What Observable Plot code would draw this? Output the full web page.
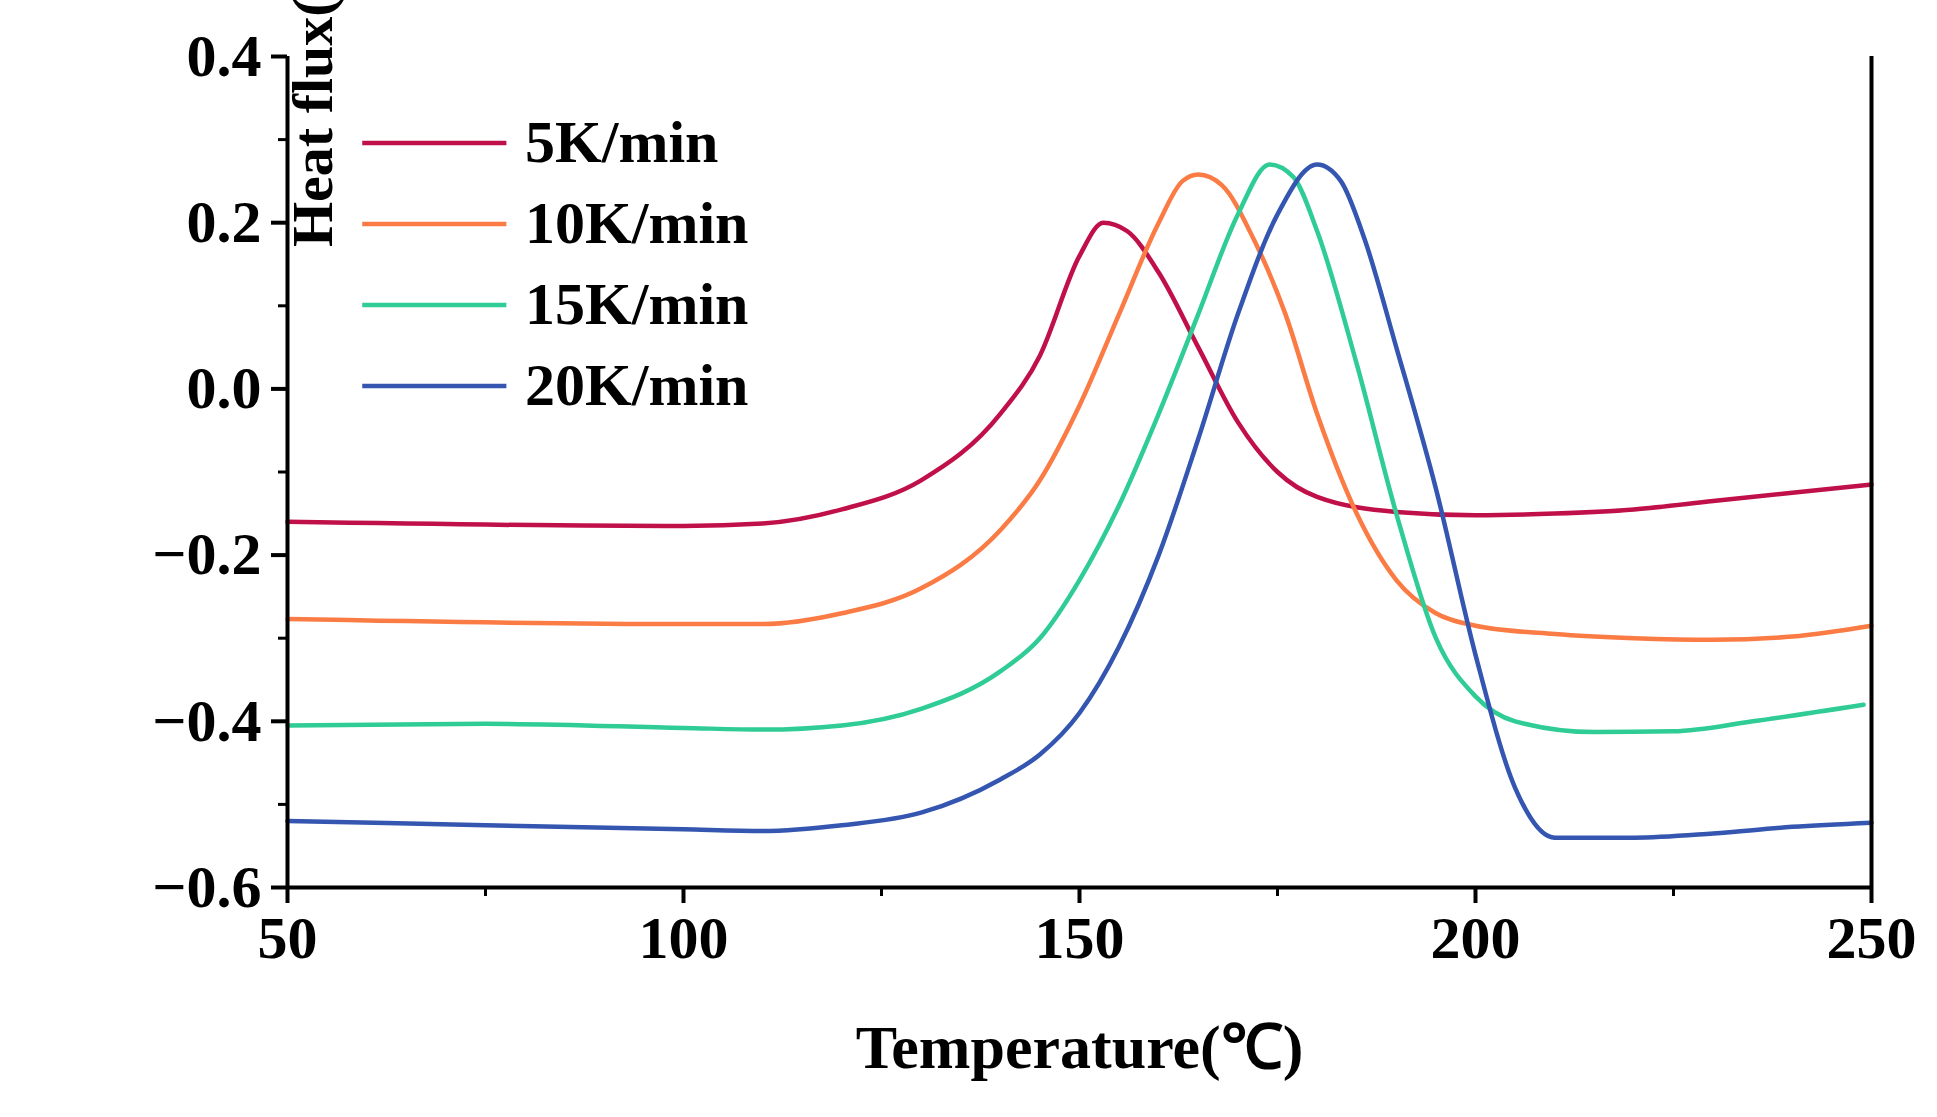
<!DOCTYPE html>
<html><head><meta charset="utf-8">
<script src="https://cdn.jsdelivr.net/npm/d3@7"></script>
<script src="https://cdn.jsdelivr.net/npm/@observablehq/plot@0.6"></script>
<style>body{margin:0;background:#fff}</style>
</head><body><div id="c"></div>
<script>
const seriesNames = ["5K/min","10K/min","15K/min","20K/min"];
const colors = ["#c0104a","#fb7b45","#2fcc96","#3456b0"];
const t5  = [50,100,110,120,130,140,145,150,153,156,160,165,170,175,180,190,200,210,220,230,240,250];
const v5  = [-0.16,-0.165,-0.162,-0.145,-0.11,-0.03,0.04,0.16,0.2,0.19,0.14,0.05,-0.04,-0.1,-0.13,-0.148,-0.152,-0.15,-0.145,-0.135,-0.125,-0.115];
const t10 = [50,100,110,120,130,140,145,150,155,160,163,165,168,172,176,180,185,190,195,200,210,220,230,240,250];
const v10 = [-0.277,-0.283,-0.283,-0.27,-0.24,-0.17,-0.11,-0.02,0.09,0.2,0.25,0.258,0.245,0.18,0.09,-0.03,-0.15,-0.23,-0.27,-0.285,-0.295,-0.3,-0.302,-0.298,-0.285];
const t15 = [50,75,100,110,120,130,140,145,150,155,160,165,170,174,177,180,185,190,195,200,205,215,225,235,249];
const v15 = [-0.405,-0.403,-0.408,-0.41,-0.405,-0.385,-0.34,-0.3,-0.23,-0.14,-0.03,0.09,0.21,0.27,0.255,0.19,0.03,-0.15,-0.3,-0.37,-0.4,-0.413,-0.412,-0.4,-0.38];
const t20 = [50,75,100,110,120,130,140,145,150,155,160,165,170,175,180,183,186,190,195,200,205,210,220,230,240,250];
const v20 = [-0.52,-0.525,-0.53,-0.532,-0.525,-0.51,-0.47,-0.44,-0.39,-0.31,-0.2,-0.06,0.09,0.21,0.27,0.25,0.18,0.05,-0.12,-0.32,-0.48,-0.54,-0.54,-0.535,-0.527,-0.522];
const xTicks = [50,100,150,200,250];
const xMinor = [75,125,175,225];
const yTicks = [-0.6,-0.4,-0.2,0.0,0.2,0.4];
const yMinor = [-0.5,-0.3,-0.1,0.1,0.3];

const ts=[t5,t10,t15,t20], vs=[v5,v10,v15,v20];
const data = seriesNames.flatMap((s,i)=>ts[i].map((t,j)=>({s,t,v:vs[i][j]})));
const fmtY = d => (d<0?"\u2212":"")+Math.abs(d).toFixed(1);
const font = {fontSize:60, fontWeight:"bold"};
const W=1937,H=1117, mL=287, mR=66, mT=56, mB=230;
const chart = Plot.plot({
  width:W, height:H, marginLeft:mL, marginRight:mR, marginTop:mT, marginBottom:mB,
  style:{fontFamily:"Liberation Serif", color:"#000", background:"#fff"},
  x:{domain:[50,250]}, y:{domain:[-0.6,0.4]},
  color:{domain:seriesNames, range:colors},
  marks:[
    Plot.line(data,{x:"t",y:"v",stroke:"s",strokeWidth:4.5,curve:"monotone-x"}),
    Plot.axisX({ticks:xTicks, tickSize:16, tickPadding:12, strokeWidth:4, ...font, label:null}),
    Plot.axisX({ticks:xMinor, tickSize:9, strokeWidth:3, tickFormat:()=>"", label:null}),
    Plot.axisY({ticks:yTicks, tickSize:16, tickPadding:10, strokeWidth:4, tickFormat:fmtY, ...font, label:null}),
    Plot.axisY({ticks:yMinor, tickSize:9, strokeWidth:3, tickFormat:()=>"", label:null}),
    Plot.ruleX([50,250],{strokeWidth:4}),
    Plot.ruleY([-0.6],{strokeWidth:4}),
    Plot.text(["Temperature(\u2103)"],{frameAnchor:"bottom", dy:180, fontSize:62, fontWeight:"bold"}),
    Plot.text(["Heat flux(mW/mg)"],{frameAnchor:"left", dx:26, dy:-225, rotate:-90, fontSize:58, fontWeight:"bold"}),
    Plot.ruleY(seriesNames,{y:(d,i)=>0.296-i*0.0975, x1:59.5,x2:77.7, stroke:d=>d, strokeWidth:4.5}),
    Plot.text(seriesNames,{y:(d,i)=>0.296-i*0.0975, x:80, text:d=>d, textAnchor:"start", fontSize:60, fontWeight:"bold"})
  ]
});
document.getElementById("c").appendChild(chart);
</script></body></html>
